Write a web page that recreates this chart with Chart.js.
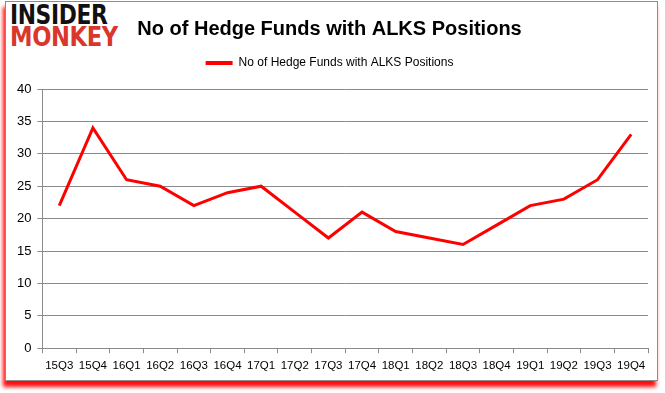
<!DOCTYPE html>
<html>
<head>
<meta charset="utf-8">
<script src="https://cdn.jsdelivr.net/npm/chart.js@4"></script>
<style>
  html, body { margin: 0; padding: 0; background: #fff; }
  #wrap { position: relative; width: 665px; height: 393px; overflow: hidden; }
  #frame {
    position: absolute; left: 5px; top: 1px; width: 651px; height: 378px;
    border: 1px solid #8c8c8c; background: #fff;
    box-shadow: -2px 6px 4px rgba(255, 0, 0, 0.95);
  }
  #logo { position: absolute; left: 10px; top: 5px; font-family: "DejaVu Sans", sans-serif; font-weight: bold; }
  #logo div { font-size: 28px; height: 22px; line-height: 22px; transform-origin: 0 0; letter-spacing: -0.5px; }
  #logo .a { color: #111; transform: scale(0.78, 0.95); }
  #logo .b { color: #d9372b; transform: scale(0.81, 0.95); }
  #chart { position: absolute; left: 0; top: 0; }
</style>
</head>
<body>
<div id="wrap">
  <div id="frame"></div>
  <div id="logo"><div class="a">INSIDER</div><div class="b">MONKEY</div></div>
  <canvas id="chart" width="665" height="393"></canvas>
</div>
<script>
// Data
const quarters = ['15Q3', '15Q4', '16Q1', '16Q2', '16Q3', '16Q4', '17Q1', '17Q2', '17Q3',
                  '17Q4', '18Q1', '18Q2', '18Q3', '18Q4', '19Q1', '19Q2', '19Q3', '19Q4'];
const hedgeFunds = [22, 34, 26, 25, 22, 24, 25, 21, 17, 21, 18, 17, 16, 19, 22, 23, 26, 33];
const yTicks = [0, 5, 10, 15, 20, 25, 30, 35, 40];

const gridCol = '#8a8a8a';

// extra space under the legend
const legendGap = {
  id: 'legendGap',
  beforeInit(chart) {
    const fit = chart.legend.fit;
    chart.legend.fit = function () {
      fit.bind(chart.legend)();
      this.height += 10;
    };
  }
};

new Chart(document.getElementById('chart').getContext('2d'), {
  type: 'line',
  data: {
    labels: quarters,
    datasets: [{
      label: 'No of Hedge Funds with ALKS Positions',
      data: hedgeFunds,
      borderColor: '#ff0000',
      backgroundColor: '#ff0000',
      borderWidth: 3,
      pointRadius: 0,
      tension: 0,
      fill: false
    }]
  },
  options: {
    responsive: false,
    animation: false,
    layout: { padding: { top: 17, left: 11, right: 17, bottom: 14 } },
    plugins: {
      title: {
        display: true,
        text: 'No of Hedge Funds with ALKS Positions',
        color: '#000',
        font: { family: 'Liberation Sans', size: 20, weight: 'bold' },
        padding: { top: 0, bottom: 6 }
      },
      legend: {
        display: true,
        labels: {
          color: '#000',
          font: { family: 'Liberation Sans', size: 12 },
          boxWidth: 27,
          boxHeight: 4,
          padding: 10,
          generateLabels: chart => [{
            text: chart.data.datasets[0].label,
            fillStyle: '#ff0000',
            strokeStyle: '#ff0000',
            lineWidth: 0,
            datasetIndex: 0
          }]
        }
      },
      tooltip: { enabled: false }
    },
    scales: {
      x: {
        offset: true,
        ticks: { color: '#000', font: { family: 'Liberation Sans', size: 11.5 }, maxRotation: 0, autoSkip: false, padding: 6 },
        grid: { offset: true, drawOnChartArea: false, color: gridCol, tickLength: 5 },
        border: { color: gridCol }
      },
      y: {
        min: 0,
        max: 40,
        afterBuildTicks: axis => { axis.ticks = yTicks.map(v => ({ value: v })); },
        ticks: { color: '#000', font: { family: 'Liberation Sans', size: 13 }, padding: 6 },
        grid: { color: gridCol, tickLength: 5 },
        border: { color: gridCol }
      }
    }
  },
  plugins: [legendGap]
});
</script>
</body>
</html>
